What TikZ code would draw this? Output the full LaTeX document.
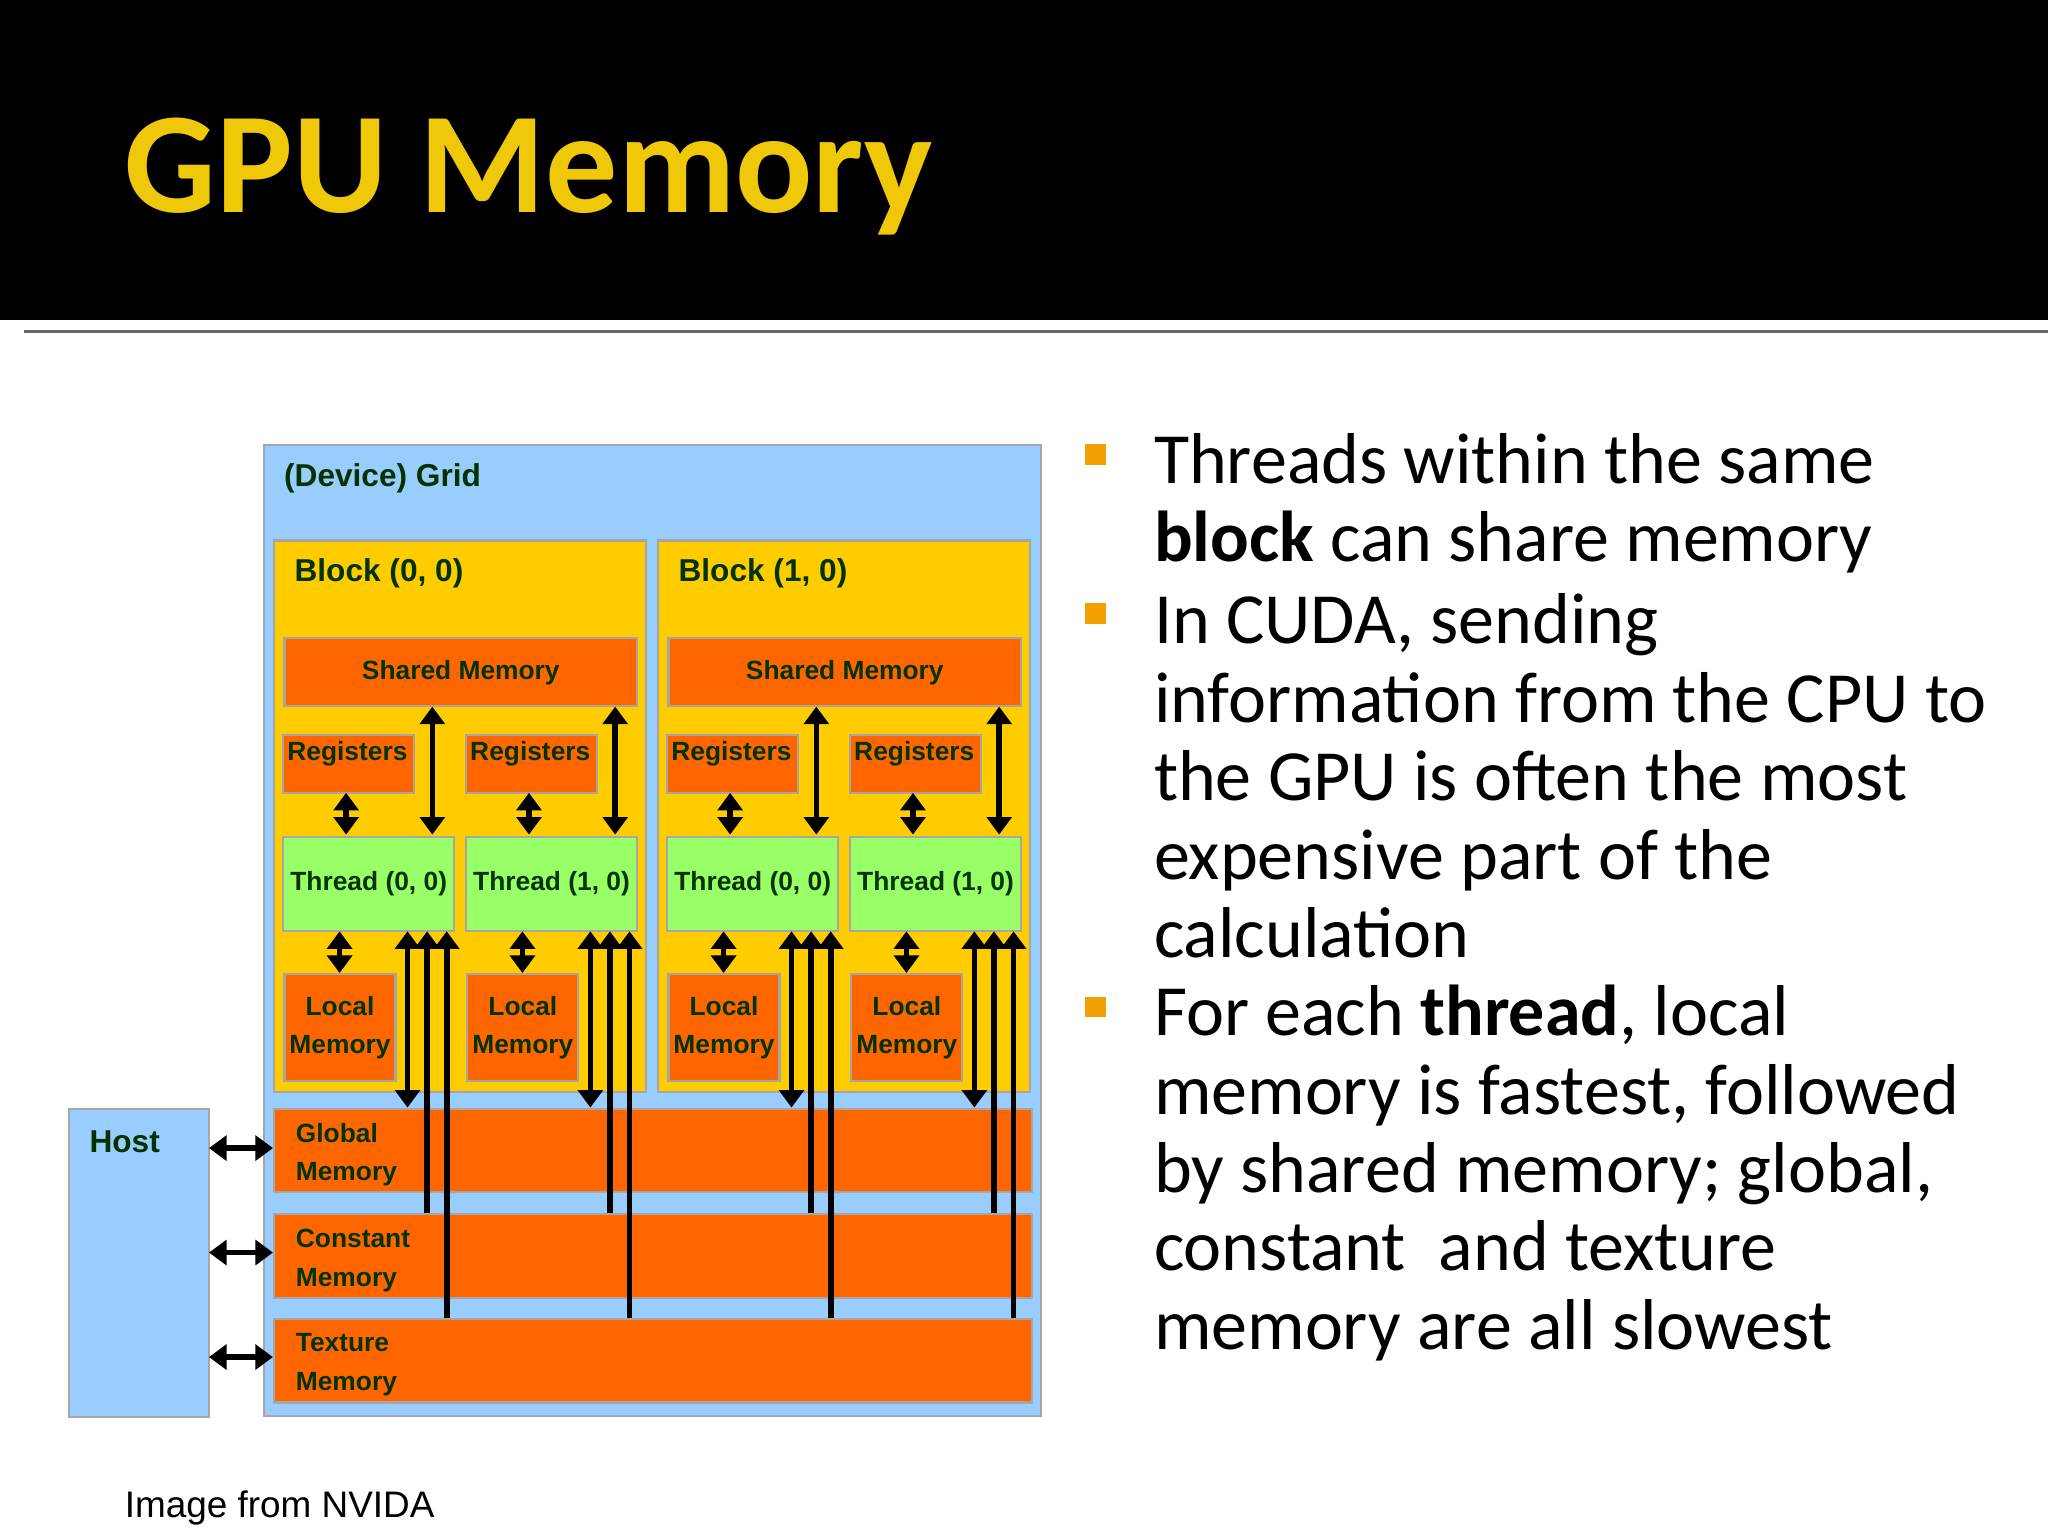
\documentclass[tikz,border=0pt]{standalone}
\usepackage{fontspec}
\setmainfont{Carlito}
\newfontfamily\arial{Liberation Sans}
\usetikzlibrary{arrows.meta}
\definecolor{gridblue}{RGB}{153,204,255}
\definecolor{gold}{RGB}{255,204,0}
\definecolor{orng}{RGB}{255,102,0}
\definecolor{lgreen}{RGB}{153,255,102}
\definecolor{dgreen}{RGB}{0,51,0}
\definecolor{titley}{RGB}{240,200,10}
\definecolor{bul}{RGB}{240,160,0}
\tikzset{
 box/.style={draw=gray!70, line width=0.6pt},
 lbl/.style={font=\arial\bfseries\fontsize{7.5}{9}\selectfont, text=dgreen, inner sep=0pt, align=center},
 big/.style={font=\arial\bfseries\fontsize{9}{11}\selectfont, text=dgreen, inner sep=0pt, anchor=west},
 arr/.style={line width=1.6pt, -{Triangle[length=5pt,width=7pt]}},
 darr/.style={line width=1.6pt, {Triangle[length=5pt,width=7pt]}-{Triangle[length=5pt,width=7pt]}},
 txt/.style={font=\fontsize{20.5}{24}\selectfont, anchor=base west, inner sep=0pt},
}
\begin{document}
\begin{tikzpicture}[x=0.013061cm,y=-0.013061cm]
\useasboundingbox (0,0) rectangle (1568,1176);
\fill[white] (0,0) rectangle (1568,1176);
\fill[black] (0,0) rectangle (1568,245);
\draw[gray!80!black, line width=0.8pt] (18,254) -- (1568,254);
\node[font=\bfseries\fontsize{41}{48}\selectfont, text=titley, anchor=base west, inner sep=0pt] (title) at (95,163) {GPU Memory};

% grid
\node[box, fill=gridblue, minimum width=595*0.013061cm, minimum height=743*0.013061cm, anchor=north west, inner sep=0pt] (grid) at (201,340) {};
\node[big] (gridl) at (217,366) {(Device) Grid};
\node[box, fill=gridblue, minimum width=107*0.013061cm, minimum height=236*0.013061cm, anchor=north west, inner sep=0pt] (host) at (52,848) {};
\node[big] (hostl) at (68,874) {Host};

\foreach \dx/\b in {0/0,294/1}{
 \begin{scope}[xshift=\dx*0.013061cm]
 \node[box, fill=gold, minimum width=285*0.013061cm, minimum height=422*0.013061cm, anchor=north west, inner sep=0pt] (blk\b) at (209,413) {};
 \node[big] (blkl\b) at (225,439) {Block (\b, 0)};
 \node[box, fill=orng, minimum width=270*0.013061cm, minimum height=52*0.013061cm, anchor=north west, inner sep=0pt] (sh\b) at (217,488) {};
 \node[lbl] at (sh\b) {Shared Memory};
 \foreach \t/\tx in {0/0,1/140}{
  \begin{scope}[xshift=\tx*0.013061cm]
  \node[box, fill=orng, minimum width=100*0.013061cm, minimum height=44*0.013061cm, anchor=north west, inner sep=0pt] (rg\b\t) at (216,562) {};
  \node[lbl, anchor=north] at (266,567) {Registers};
  \node[box, fill=lgreen, minimum width=131*0.013061cm, minimum height=72*0.013061cm, anchor=north west, inner sep=0pt] (th\b\t) at (216,640) {};
  \node[lbl] at (th\b\t) {Thread (\t, 0)};
  \node[box, fill=orng, minimum width=85*0.013061cm, minimum height=82*0.013061cm, anchor=north west, inner sep=0pt] (lm\b\t) at (217,745) {};
  \node[lbl, align=center] at (lm\b\t) {Local\\[2pt]Memory};
  \coordinate (a1) at (265,607); \coordinate (a2) at (265,639);
  \draw[darr] (a1) -- (a2);
  \coordinate (b1) at (260,713); \coordinate (b2) at (260,745);
  \draw[darr] (b1) -- (b2);
  \coordinate (c1) at (331,541); \coordinate (c2) at (331,639);
  \draw[darr] (c1) -- (c2);
  \end{scope}}
 \end{scope}}

\node[box, fill=orng, minimum width=580*0.013061cm, minimum height=64*0.013061cm, anchor=north west, inner sep=0pt] (glob) at (209,848) {};
\node[box, fill=orng, minimum width=580*0.013061cm, minimum height=64*0.013061cm, anchor=north west, inner sep=0pt] (const) at (209,929) {};
\node[box, fill=orng, minimum width=580*0.013061cm, minimum height=64*0.013061cm, anchor=north west, inner sep=0pt] (tex) at (209,1009) {};
\node[lbl, align=left, anchor=west] at (226,884) {Global\\[2pt]Memory};
\node[lbl, align=left, anchor=west] at (226,965) {Constant\\[2pt]Memory};
\node[lbl, align=left, anchor=west] at (226,1045) {Texture\\[2pt]Memory};

\foreach \x in {0,140,294,434}{
 \begin{scope}[xshift=\x*0.013061cm]
 \coordinate (g1) at (312,713); \coordinate (g2) at (312,848);
 \draw[darr] (g1) -- (g2);
 \coordinate (k1) at (327,929); \coordinate (k2) at (327,713);
 \draw[arr] (k1) -- (k2);
 \coordinate (t1) at (342,1009); \coordinate (t2) at (342,713);
 \draw[arr] (t1) -- (t2);
 \end{scope}}

\foreach \y in {879,959,1039}{
 \coordinate (h1) at (160,\y); \coordinate (h2) at (209,\y);
 \draw[darr] (h1) -- (h2);}

% text
\foreach \y in {348,470,771}{\fill[bul] (831,\y-8) rectangle (847,\y+8);}
\node[txt] at (883,370) {Threads within the same};
\node[txt] at (883,430) {\textbf{block} can share memory};
\node[txt] at (883,493) {In CUDA, sending};
\node[txt] at (883,553) {information from the CPU to};
\node[txt] at (883,613) {the GPU is often the most};
\node[txt] at (883,673) {expensive part of the};
\node[txt] at (883,733) {calculation};
\node[txt] at (883,793) {For each \textbf{thread}, local};
\node[txt] at (883,853) {memory is fastest, followed};
\node[txt] at (883,913) {by shared memory; global,};
\node[txt] at (883,973) {constant~ and texture};
\node[txt] at (883,1033) {memory are all slowest};
\node[font=\arial\fontsize{10.5}{12}\selectfont, anchor=base west, inner sep=0pt] at (95,1162) {Image from NVIDA};
\end{tikzpicture}
\end{document}
